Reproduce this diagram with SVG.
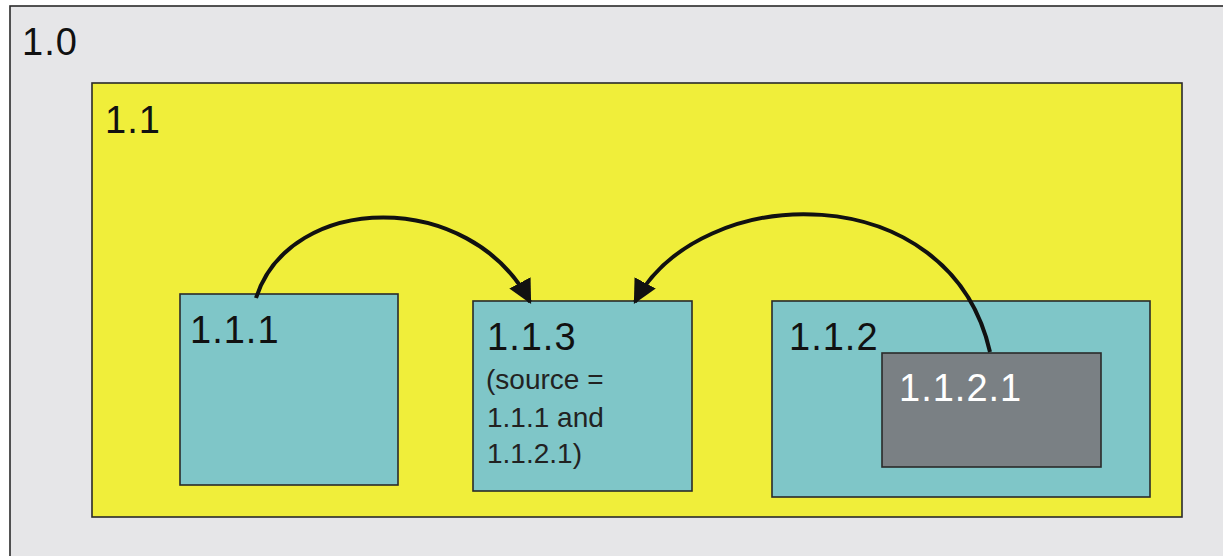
<svg xmlns="http://www.w3.org/2000/svg" width="1223" height="556" viewBox="0 0 1223 556">
<style>
.box{stroke:#2a2a2a;stroke-width:1.6}
.big{font-family:"Liberation Sans",Arial,sans-serif;font-size:38px;fill:#111;letter-spacing:1px}
.small{font-family:"Liberation Sans",Arial,sans-serif;font-size:28px;fill:#222}
.conn{fill:none;stroke:#111;stroke-width:4}
</style>
<defs>
<marker id="ah" viewBox="0 0 10 10" refX="9" refY="5" markerWidth="6" markerHeight="6" markerUnits="strokeWidth" orient="auto">
<path d="M0,0 L10,5 L0,10 Z" fill="#111"/>
</marker>
</defs>
<rect width="1223" height="556" fill="#ffffff"/>
<g id="n1_0">
<rect class="box" x="10" y="6" width="1230" height="560" fill="#e6e6e8"/>
<text class="big" x="22" y="55">1.0</text>
</g>
<g id="n1_1">
<rect class="box" x="92" y="83" width="1090" height="434" fill="#f0ee3a"/>
<text class="big" x="105" y="133">1.1</text>
</g>
<g id="n1_1_1">
<rect class="box" x="180" y="294" width="218" height="191" fill="#7fc6c8"/>
<text class="big" x="190" y="343">1.1.1</text>
</g>
<g id="n1_1_3">
<rect class="box" x="473" y="301" width="219" height="190" fill="#7fc6c8"/>
<text class="big" x="487" y="350">1.1.3</text>
<text class="small" x="486" y="389">(source =</text>
<text class="small" x="487" y="427">1.1.1 and</text>
<text class="small" x="487" y="463">1.1.2.1)</text>
</g>
<g id="n1_1_2">
<rect class="box" x="772" y="301" width="378" height="196" fill="#7fc6c8"/>
<text class="big" x="789" y="350">1.1.2</text>
</g>
<g id="n1_1_2_1">
<rect class="box" x="882" y="353" width="219" height="114" fill="#7a8084"/>
<text class="big" x="899" y="401" fill="#ffffff" style="fill:#ffffff">1.1.2.1</text>
</g>
<g id="connectors">
<path class="conn" d="M256,298 C290,192 470,188 530,302" marker-end="url(#ah)"/>
<path class="conn" d="M990,352 C950,175 700,180 635,302" marker-end="url(#ah)"/>
</g>
</svg>
